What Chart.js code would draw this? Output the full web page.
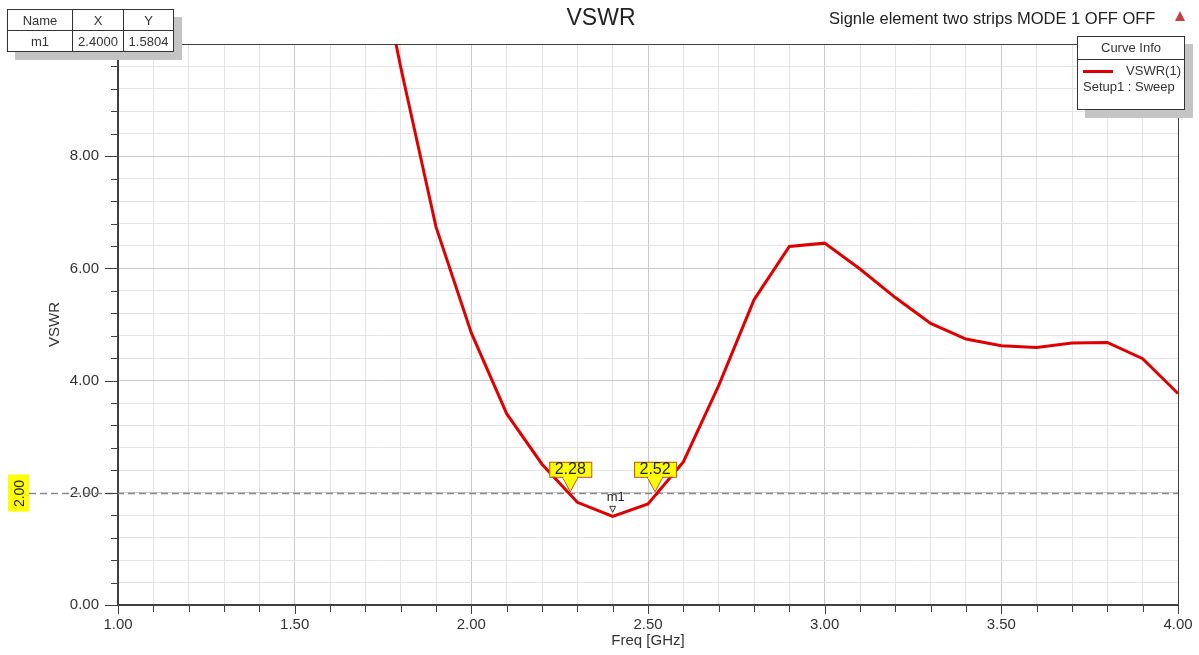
<!DOCTYPE html>
<html>
<head>
<meta charset="utf-8">
<title>VSWR</title>
<script src="https://cdn.jsdelivr.net/npm/chart.js@4.4.1/dist/chart.umd.min.js"></script>
<style>
  html, body { margin: 0; padding: 0; background: #fff; }
  #wrap { position: relative; width: 1199px; height: 655px; font-family: "Liberation Sans", Arial, sans-serif; color: #222; overflow: hidden; }
  #wrap canvas { position: absolute; left: 0; top: 0; }
  .title { position: absolute; left: 501px; top: 4px; width: 200px; text-align: center; font-size: 23px; line-height: 27px; color: #222; }
  .subtitle { position: absolute; left: 829px; top: 8px; font-size: 16.5px; line-height: 20px; color: #222; white-space: nowrap; }
  .icon { position: absolute; left: 1175px; top: 11px; width: 0; height: 0; border-left: 5px solid transparent; border-right: 5px solid transparent; border-bottom: 10px solid #c84040; }
  table.markers { position: absolute; left: 7px; top: 9px; border-collapse: collapse; background: #fff; font-size: 13px; box-shadow: 8px 8px 0 #c4c4c4; }
  table.markers td { border: 1px solid #333; height: 20px; padding: 0; text-align: center; color: #333; }
  .curveinfo { position: absolute; left: 1077px; top: 36px; width: 106px; height: 72px; border: 1px solid #333; background: #fff; box-shadow: 8px 8px 0 #c4c4c4; font-size: 13px; color: #333; }
  .curveinfo .head { height: 22px; line-height: 22px; text-align: center; border-bottom: 1px solid #333; }
  .curveinfo .row { position: relative; height: 16px; line-height: 16px; margin-top: 3px; }
  .curveinfo .swatch { position: absolute; left: 5px; top: 7px; width: 30px; height: 3px; background: #e00000; }
  .curveinfo .name { position: absolute; right: 3px; top: 0; }
  .curveinfo .setup { padding-left: 5px; line-height: 15px; white-space: nowrap; }
</style>
</head>
<body>
<div id="wrap">
  <canvas id="chart" width="1199" height="655"></canvas>
  <div class="title">VSWR</div>
  <div class="subtitle">Signle element two strips MODE 1 OFF OFF</div>
  <div class="icon"></div>
  <table class="markers">
    <tr><td style="width:64px">Name</td><td style="width:50px">X</td><td style="width:49px">Y</td></tr>
    <tr><td>m1</td><td>2.4000</td><td>1.5804</td></tr>
  </table>
  <div class="curveinfo">
    <div class="head">Curve Info</div>
    <div class="row"><span class="swatch"></span><span class="name">VSWR(1)</span></div>
    <div class="setup">Setup1 : Sweep</div>
  </div>
</div>
<script>
// sweep points (GHz) and VSWR
const freqGHz = [1.7, 1.8, 1.9, 2.0, 2.1, 2.2, 2.3, 2.4, 2.5, 2.6, 2.7, 2.8, 2.9, 3.0,
                 3.1, 3.2, 3.3, 3.4, 3.5, 3.6, 3.7, 3.8, 3.9, 4.0];
const vswr = [12.7, 9.59, 6.74, 4.85, 3.41, 2.51, 1.83, 1.5804, 1.80, 2.55, 3.91, 5.44, 6.39, 6.45,
              5.99, 5.48, 5.02, 4.74, 4.62, 4.59, 4.67, 4.68, 4.39, 3.77];

// reference level and the two crossing flags
const refLevel = 2.0;
const flagFreqs = [2.28, 2.52];
const markerName = 'm1';
const markerFreq = 2.4;
const markerVswr = 1.5804;

const xMin = 1.0, xMax = 4.0, xStep = 0.1, xMajor = 0.5;
const yMin = 0, yMax = 10, yStep = 0.4, yMajor = 2;

const FONT = '"Liberation Sans", Arial, sans-serif';
const GRID_MAJOR = '#c9c9c9';
const GRID_MINOR = '#e4e4e4';
const AXIS = '#404040';

function isMultiple(v, step) {
    const r = v / step;
    return Math.abs(r - Math.round(r)) < 1e-6;
}

const points = freqGHz.map((f, i) => ({ x: f, y: vswr[i] }));

const overlay = {
    id: 'hfssOverlay',
    beforeDatasetsDraw(chart) {
        const { ctx, chartArea: a, scales: { x, y } } = chart;
        ctx.save();
        // top and right frame
        ctx.strokeStyle = AXIS;
        ctx.lineWidth = 1;
        ctx.beginPath();
        ctx.moveTo(a.left, a.top + 0.5);
        ctx.lineTo(a.right + 0.5, a.top + 0.5);
        ctx.lineTo(a.right + 0.5, a.bottom);
        ctx.stroke();

        // dashed reference line
        const ry = Math.round(y.getPixelForValue(refLevel)) + 0.5;
        ctx.strokeStyle = '#8a8a8a';
        ctx.lineWidth = 1.3;
        ctx.setLineDash([7, 4]);
        ctx.beginPath();
        ctx.moveTo(29, ry);
        ctx.lineTo(a.right, ry);
        ctx.stroke();
        ctx.setLineDash([]);

        // yellow level tag
        ctx.fillStyle = '#ffff00';
        ctx.fillRect(8, ry - 19, 21, 37);
        ctx.translate(19, ry);
        ctx.rotate(-Math.PI / 2);
        ctx.fillStyle = '#222';
        ctx.font = '14px ' + FONT;
        ctx.textAlign = 'center';
        ctx.textBaseline = 'middle';
        ctx.fillText(refLevel.toFixed(2), 0, 1);
        ctx.restore();
    },
    afterDatasetsDraw(chart) {
        const { ctx, scales: { x, y } } = chart;
        ctx.save();
        const ry = y.getPixelForValue(refLevel);
        flagFreqs.forEach(f => {
            const px = x.getPixelForValue(f);
            ctx.fillStyle = '#ffff00';
            ctx.strokeStyle = '#c0501e';
            ctx.lineWidth = 1;
            ctx.beginPath();
            ctx.moveTo(px - 8, ry - 16);
            ctx.lineTo(px, ry - 1);
            ctx.lineTo(px + 8, ry - 16);
            ctx.closePath();
            ctx.fill();
            ctx.stroke();
            ctx.fillRect(px - 21, ry - 31, 42, 15);
            ctx.strokeRect(px - 21 + 0.5, ry - 31 + 0.5, 42, 15);
            ctx.fillStyle = '#ffff00';
            ctx.fillRect(px - 7, ry - 17, 14, 3);
            ctx.fillStyle = '#222';
            ctx.font = '16px ' + FONT;
            ctx.textAlign = 'center';
            ctx.textBaseline = 'middle';
            ctx.fillText(f.toFixed(2), px, ry - 23);
        });

        // m1 marker
        const mx = x.getPixelForValue(markerFreq);
        const my = y.getPixelForValue(markerVswr);
        ctx.strokeStyle = '#333';
        ctx.lineWidth = 1;
        ctx.beginPath();
        ctx.moveTo(mx - 3, my - 10);
        ctx.lineTo(mx + 3, my - 10);
        ctx.lineTo(mx, my - 4);
        ctx.closePath();
        ctx.stroke();
        ctx.fillStyle = '#222';
        ctx.font = '13px ' + FONT;
        ctx.textAlign = 'center';
        ctx.textBaseline = 'middle';
        ctx.fillText(markerName, mx + 3, my - 19);
        ctx.restore();
    },
    afterDraw(chart) {
        const { ctx, chartArea: a, scales: { x, y } } = chart;
        ctx.save();
        ctx.strokeStyle = AXIS;
        ctx.lineWidth = 1;
        ctx.beginPath();
        y.ticks.forEach(t => {
            const py = Math.round(y.getPixelForValue(t.value)) + 0.5;
            const len = isMultiple(t.value, yMajor) ? 13 : 7;
            ctx.moveTo(a.left - len, py);
            ctx.lineTo(a.left, py);
        });
        x.ticks.forEach(t => {
            const px = Math.round(x.getPixelForValue(t.value)) + 0.5;
            const len = isMultiple(t.value, xMajor) ? 9 : 7;
            ctx.moveTo(px, a.bottom);
            ctx.lineTo(px, a.bottom + len);
        });
        ctx.stroke();
        ctx.restore();
    }
};

new Chart(document.getElementById('chart'), {
    type: 'line',
    data: {
        datasets: [{
            label: 'VSWR(1)',
            data: points,
            borderColor: '#e00000',
            borderWidth: 3,
            pointRadius: 0,
            tension: 0,
            fill: false
        }]
    },
    options: {
        responsive: false,
        animation: false,
        layout: { padding: { left: 0, top: 44, right: 21, bottom: 0 } },
        plugins: {
            legend: { display: false },
            tooltip: { enabled: false }
        },
        scales: {
            x: {
                type: 'linear',
                min: xMin,
                max: xMax,
                afterFit: s => {
                    s.height = 50;
                    s.paddingLeft = 0;
                    s.paddingRight = 0;
                },
                border: { color: AXIS, width: 2 },
                grid: {
                    drawTicks: false,
                    color: c => isMultiple(c.tick.value, xMajor) ? GRID_MAJOR : GRID_MINOR
                },
                ticks: {
                    stepSize: xStep,
                    autoSkip: false,
                    maxRotation: 0,
                    padding: 11,
                    color: '#333',
                    font: { family: FONT, size: 15 },
                    callback: v => isMultiple(v, xMajor) ? v.toFixed(2) : ''
                },
                title: {
                    display: true,
                    text: 'Freq [GHz]',
                    color: '#333',
                    font: { family: FONT, size: 15 },
                    padding: { top: 0, bottom: 5 }
                }
            },
            y: {
                min: yMin,
                max: yMax,
                afterFit: s => {
                    s.width = 118;
                    s.paddingTop = 0;
                    s.paddingBottom = 0;
                },
                border: { color: AXIS, width: 2 },
                grid: {
                    drawTicks: false,
                    color: c => isMultiple(c.tick.value, yMajor) ? GRID_MAJOR : GRID_MINOR
                },
                ticks: {
                    stepSize: yStep,
                    autoSkip: false,
                    padding: 19,
                    color: '#333',
                    font: { family: FONT, size: 15 },
                    callback: v => (isMultiple(v, yMajor) && v < yMax) ? v.toFixed(2) : ''
                },
                title: {
                    display: true,
                    text: 'VSWR',
                    color: '#333',
                    font: { family: FONT, size: 15 },
                    padding: { top: 46, bottom: 0 }
                }
            }
        }
    },
    plugins: [overlay]
});
</script>
</body>
</html>
